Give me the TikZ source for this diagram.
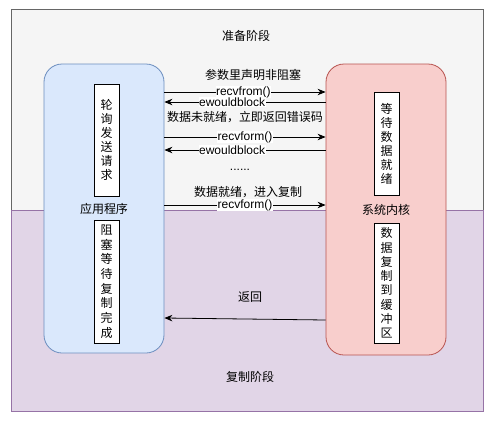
\documentclass[tikz,border=0pt]{standalone}
\usepackage{fontspec}
\setmainfont{Liberation Sans}
\newfontfamily\cjk{Noto Sans CJK SC}
\usetikzlibrary{arrows.meta}
\definecolor{grayfill}{HTML}{F5F5F5}
\definecolor{graystroke}{HTML}{666666}
\definecolor{purfill}{HTML}{E1D5E7}
\definecolor{purstroke}{HTML}{9673A6}
\definecolor{bluefill}{HTML}{DAE8FC}
\definecolor{bluestroke}{HTML}{6C8EBF}
\definecolor{redfill}{HTML}{F8CECC}
\definecolor{redstroke}{HTML}{B85450}
\tikzset{
  zh/.style={font=\cjk\fontsize{12}{14}\selectfont},
  en/.style={font=\fontsize{12}{14}\selectfont},
  phase/.style={draw=#1, line width=0.9pt, inner sep=0pt},
  bigbox/.style={rounded corners=18pt, line width=0.8pt, minimum width=120pt, inner sep=0pt, zh},
  vbox/.style={draw=black, fill=white, line width=0.7pt, minimum width=25pt, inner sep=0pt, align=center, zh},
  arr/.style={-{Stealth[length=8pt,width=6.5pt]}, line width=0.8pt, black},
  lbl/.style={fill=white, inner sep=0.5pt, en},
}
\begin{document}
\begin{tikzpicture}[x=1pt,y=-1pt]
\useasboundingbox (0,0) rectangle (499,421);
\draw[phase=graystroke, fill=grayfill] (11,9) rectangle (483,210);
\draw[phase=purstroke, fill=purfill] (11,210) rectangle (483,411);
\node[zh] (prep) at (246,36) {准备阶段};
\node[zh] (copy) at (250,377) {复制阶段};

\node[bigbox, draw=bluestroke, fill=bluefill, minimum height=289pt] (app) at (104,208.5) {应用程序};
\node[bigbox, draw=redstroke, fill=redfill, minimum height=291pt] (kern) at (386,209.5) {\raisebox{-3pt}{系统内核}};

\node[vbox, minimum height=112pt] (poll) at (106.5,140) {轮\\询\\发\\送\\请\\求};
\node[vbox, minimum height=123pt, font=\cjk\fontsize{12}{14.7}\selectfont] (block) at (106.5,281.5) {阻\\塞\\等\\待\\复\\制\\完\\成};
\node[vbox, minimum height=103pt] (wait) at (386.5,143.5) {等\\待\\数\\据\\就\\绪};
\node[vbox, minimum height=120pt, font=\cjk\fontsize{12}{14.3}\selectfont] (cp) at (386.5,283) {数\\据\\复\\制\\到\\缓\\冲\\区};

\node[zh] (t1) at (253,75) {参数里声明非阻塞};
\draw[arr] (app.east |- 0,92) -- node[lbl, pos=0.49] {recvfrom()} (kern.west |- 0,92);
\draw[arr] (kern.west |- 0,102) -- node[lbl, pos=0.58] {ewouldblock} (app.east |- 0,102);
\node[zh] (t2) at (245,117) {数据未就绪，立即返回错误码};
\draw[arr] (app.east |- 0,137) -- node[lbl, pos=0.5] {recvform()} (kern.west |- 0,137);
\draw[arr] (kern.west |- 0,150) -- node[lbl, pos=0.58] {ewouldblock} (app.east |- 0,150);
\node[en] (dots) at (240,170) {......};
\node[zh] (t3) at (248,192) {数据就绪，进入复制};
\draw[arr] (app.east |- 0,205) -- node[lbl, pos=0.5] {recvform()} (kern.west |- 0,205);
\node[zh] (t4) at (250,297) {返回};
\draw[arr] (kern.west |- 0,320) -- (app.east |- 0,318);
\end{tikzpicture}
\end{document}
